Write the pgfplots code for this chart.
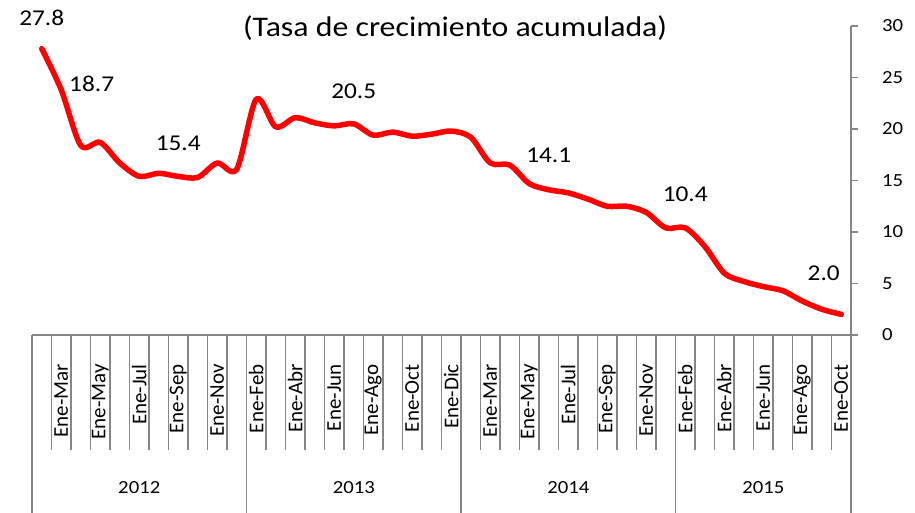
\documentclass[border=0pt]{standalone}
\usepackage{fontspec}
\setmainfont{Carlito}[FakeStretch=1.12]
\newfontfamily\catfont{Carlito}
\usepackage{pgfplots}
\pgfplotsset{compat=1.18}
\definecolor{axgray}{RGB}{134,134,134}
\begin{document}
\begin{tikzpicture}
\useasboundingbox (0,0) rectangle (915pt,513pt);
\begin{axis}[
  at={(32pt,178pt)}, anchor=south west,
  scale only axis, width=819pt, height=309pt,
  xmin=-0.5, xmax=41.5, ymin=0, ymax=30,
  axis x line*=bottom, axis y line*=right,
  axis line style={axgray, line width=1.2pt},
  clip=false,
  xtick={1,3,...,41},
  xticklabels={Ene-Mar,Ene-May,Ene-Jul,Ene-Sep,Ene-Nov,Ene-Feb,Ene-Abr,Ene-Jun,Ene-Ago,Ene-Oct,Ene-Dic,Ene-Mar,Ene-May,Ene-Jul,Ene-Sep,Ene-Nov,Ene-Feb,Ene-Abr,Ene-Jun,Ene-Ago,Ene-Oct},
  xtick style={draw=none},
  xticklabel style={rotate=90, anchor=east, inner sep=0pt, font=\catfont\fontsize{21}{25}\selectfont},
  xticklabel shift=22pt,
  ytick={0,5,...,30},
  ytick style={axgray, line width=1.2pt},
  tick align=outside, major tick length=7pt,
  yticklabel style={anchor=west, inner sep=0pt, font=\fontsize{18.5}{22}\selectfont},
  yticklabel shift=24pt,
  /pgf/number format/assume math mode=true,
]
\addplot[red, line width=5.5pt, smooth, line cap=round, line join=round, mark=none] coordinates {
(0,27.8) (1,23.8) (2,18.4) (3,18.7) (4,16.7) (5,15.4) (6,15.7) (7,15.4) (8,15.3) (9,16.7) (10,16.1)
(11,22.9) (12,20.2) (13,21.1) (14,20.6) (15,20.3) (16,20.5) (17,19.4) (18,19.7) (19,19.3) (20,19.5) (21,19.8)
(22,19.2) (23,16.7) (24,16.5) (25,14.7) (26,14.1) (27,13.8) (28,13.2) (29,12.5) (30,12.5) (31,11.9) (32,10.4)
(33,10.4) (34,8.6) (35,6.0) (36,5.2) (37,4.7) (38,4.3) (39,3.3) (40,2.5) (41,2.0)
};
\pgfplotsinvokeforeach{-0.5,0.5,1.5,2.5,3.5,4.5,5.5,6.5,7.5,8.5,9.5,10.5,11.5,12.5,13.5,14.5,15.5,16.5,17.5,18.5,19.5,20.5,21.5,22.5,23.5,24.5,25.5,26.5,27.5,28.5,29.5,30.5,31.5,32.5,33.5,34.5,35.5,36.5,37.5,38.5,39.5,40.5,41.5}{
  \draw[axgray, line width=1.2pt] (axis cs:#1,0) -- ++(0pt,-115pt);
}
\pgfplotsinvokeforeach{-0.5,10.5,21.5,32.5,41.5}{
  \draw[axgray, line width=1.2pt] (axis cs:#1,0) -- ++(0pt,-178pt);
}
\node[font=\fontsize{18.5}{22}\selectfont, yshift=-153pt] at (axis cs:5,0) {2012};
\node[font=\fontsize{18.5}{22}\selectfont, yshift=-153pt] at (axis cs:16,0) {2013};
\node[font=\fontsize{18.5}{22}\selectfont, yshift=-153pt] at (axis cs:27,0) {2014};
\node[font=\fontsize{18.5}{22}\selectfont, yshift=-153pt] at (axis cs:37,0) {2015};
\node[font=\fontsize{22.6}{27}\selectfont] at (axis cs:0,30.8) {27.8};
\node[font=\fontsize{22.6}{27}\selectfont] at (axis cs:2.56,24.4) {18.7};
\node[font=\fontsize{22.6}{27}\selectfont] at (axis cs:7,18.6) {15.4};
\node[font=\fontsize{22.6}{27}\selectfont] at (axis cs:16,23.7) {20.5};
\node[font=\fontsize{22.6}{27}\selectfont] at (axis cs:26,17.4) {14.1};
\node[font=\fontsize{22.6}{27}\selectfont] at (axis cs:33,13.7) {10.4};
\node[font=\fontsize{22.6}{27}\selectfont] at (axis cs:40.1,6.0) {2.0};
\node[font=\fontsize{28.4}{34}\selectfont] at (axis cs:21.2,29.8) {(Tasa de crecimiento acumulada)};
\end{axis}
\end{tikzpicture}
\end{document}
